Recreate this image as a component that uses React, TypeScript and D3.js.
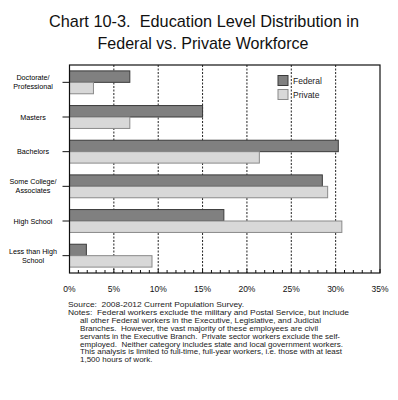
import React, { useEffect, useRef } from "react";
import * as d3 from "d3";

const categories = [
  "Doctorate/ Professional",
  "Masters",
  "Bachelors",
  "Some College/ Associates",
  "High School",
  "Less than High School",
];
const categoryLines = [
  ["Doctorate/", "Professional"],
  ["Masters"],
  ["Bachelors"],
  ["Some College/", "Associates"],
  ["High School"],
  ["Less than High", "School"],
];
const federal = [6.8, 15.0, 30.3, 28.5, 17.4, 1.9];
const privateSector = [2.7, 6.8, 21.4, 29.1, 30.7, 9.3];
const seriesNames = ["Federal", "Private"];
const xTicks = [0, 5, 10, 15, 20, 25, 30, 35];

const NB = "\u00a0";
const noteLines = [
  { text: `Source:${NB} 2008-2012 Current Population Survey.`, indent: false, len: 176 },
  { text: `Notes:${NB} Federal workers exclude the military and Postal Service, but include`, indent: false, len: 281 },
  { text: "all other Federal workers in the Executive, Legislative, and Judicial", indent: true, len: 241 },
  { text: `Branches.${NB} However, the vast majority of these employees are civil`, indent: true, len: 238 },
  { text: `servants in the Executive Branch.${NB} Private sector workers exclude the self-`, indent: true, len: 260 },
  { text: `employed.${NB} Neither category includes state and local government workers.`, indent: true, len: 263 },
  { text: "This analysis is limited to full-time, full-year workers, i.e. those with at least", indent: true, len: 262 },
  { text: "1,500 hours of work.", indent: true, len: 0 },
];

const App = () => {
  const svgRef = useRef<SVGSVGElement>(null);

  useEffect(() => {
    const svg = d3.select(svgRef.current);
    svg.selectAll("*").remove();

    const width = 398;
    const height = 400;
    const margin = { top: 65, right: 18, bottom: 127, left: 69.5 };
    const font = "'Liberation Sans', Arial, sans-serif";
    const colors = ["#808080", "#d8d8d8"];
    const strokes = ["#3a3a3a", "#8a8a8a"];

    svg.attr("width", width).attr("height", height);
    svg.append("rect").attr("width", width).attr("height", height).attr("fill", "#fff");

    // Title
    const title = svg.append("g").attr("font-family", font).attr("fill", "#111")
      .attr("text-anchor", "middle");
    title.append("text").attr("x", 204).attr("y", 27).attr("font-size", 17)
      .attr("textLength", 310).attr("lengthAdjust", "spacingAndGlyphs")
      .text(`Chart 10-3.${NB} Education Level Distribution in`);
    title.append("text").attr("x", 203).attr("y", 49).attr("font-size", 17)
      .attr("textLength", 211).attr("lengthAdjust", "spacingAndGlyphs")
      .text("Federal vs. Private Workforce");

    const x = d3.scaleLinear().domain([0, 35]).range([margin.left, width - margin.right]);
    const y = d3.scaleBand<string>()
      .domain(categories)
      .range([margin.top, height - margin.bottom])
      .paddingInner(0.34)
      .paddingOuter(0.17);
    const sub = d3.scaleBand<string>().domain(seriesNames).range([0, y.bandwidth()]);

    const top = margin.top;
    const bottom = height - margin.bottom;

    // Grid lines
    svg.append("g").selectAll("line")
      .data(xTicks.slice(1, -1))
      .enter().append("line")
      .attr("x1", d => x(d)).attr("x2", d => x(d))
      .attr("y1", top).attr("y2", bottom)
      .attr("stroke", "#222").attr("stroke-width", 1)
      .attr("stroke-dasharray", "2,1.5");

    // Bars
    const values = [federal, privateSector];
    seriesNames.forEach((name, si) => {
      svg.append("g").selectAll("rect")
        .data(categories)
        .enter().append("rect")
        .attr("x", x(0))
        .attr("y", d => (y(d) as number) + (sub(name) as number))
        .attr("width", (d, i) => x(values[si][i]) - x(0))
        .attr("height", sub.bandwidth())
        .attr("fill", colors[si])
        .attr("stroke", strokes[si])
        .attr("stroke-width", 1);
    });

    // Frame
    svg.append("rect")
      .attr("x", x(0)).attr("y", top)
      .attr("width", x(35) - x(0)).attr("height", bottom - top)
      .attr("fill", "none").attr("stroke", "#111").attr("stroke-width", 1.2);

    // X axis minor ticks
    svg.append("g").selectAll("line")
      .data(d3.range(0, 36, 1))
      .enter().append("line")
      .attr("x1", d => x(d)).attr("x2", d => x(d))
      .attr("y1", bottom).attr("y2", d => (d % 5 === 0 ? bottom - 4 : bottom - 3))
      .attr("stroke", "#111").attr("stroke-width", 1);

    // X labels
    svg.append("g").selectAll("text")
      .data(xTicks)
      .enter().append("text")
      .attr("x", d => x(d)).attr("y", 292)
      .attr("text-anchor", "middle")
      .attr("font-family", font).attr("font-size", 8.5)
      .attr("fill", "#111")
      .text(d => `${d}%`);

    // Y ticks
    svg.append("g").selectAll("line")
      .data(categories)
      .enter().append("line")
      .attr("x1", x(0) - 7).attr("x2", x(0))
      .attr("y1", d => (y(d) as number) + y.bandwidth() / 2)
      .attr("y2", d => (y(d) as number) + y.bandwidth() / 2)
      .attr("stroke", "#111").attr("stroke-width", 1);

    // Y labels
    const yl = svg.append("g").attr("font-family", font).attr("font-size", 7.2)
      .attr("fill", "#000").attr("text-anchor", "middle");
    categories.forEach((c, i) => {
      const cy = (y(c) as number) + y.bandwidth() / 2;
      const lines = categoryLines[i];
      lines.forEach((ln, j) => {
        const off = lines.length === 1 ? 2.5 : j === 0 ? -2 : 7;
        yl.append("text").attr("x", 33).attr("y", cy + off).text(ln);
      });
    });

    // Legend
    const lg = svg.append("g").attr("font-family", font).attr("font-size", 8.5).attr("fill", "#222");
    seriesNames.forEach((name, i) => {
      lg.append("rect").attr("x", 278).attr("y", 75.5 + i * 14).attr("width", 10).attr("height", 10)
        .attr("fill", colors[i]).attr("stroke", strokes[i]);
      lg.append("text").attr("x", 293).attr("y", 84 + i * 14).text(name);
    });

    // Notes
    const nt = svg.append("g").attr("font-family", font).attr("font-size", 8).attr("fill", "#222");
    noteLines.forEach((ln, i) => {
      const t = nt.append("text")
        .attr("x", ln.indent ? 80 : 68)
        .attr("y", 307 + i * 7.9)
        .text(ln.text);
      if (ln.len) t.attr("textLength", ln.len).attr("lengthAdjust", "spacingAndGlyphs");
    });
  }, []);

  return (
    <div style={{ position: "absolute", left: 0, top: 0 }}>
      <svg ref={svgRef}></svg>
    </div>
  );
};

export default App;
